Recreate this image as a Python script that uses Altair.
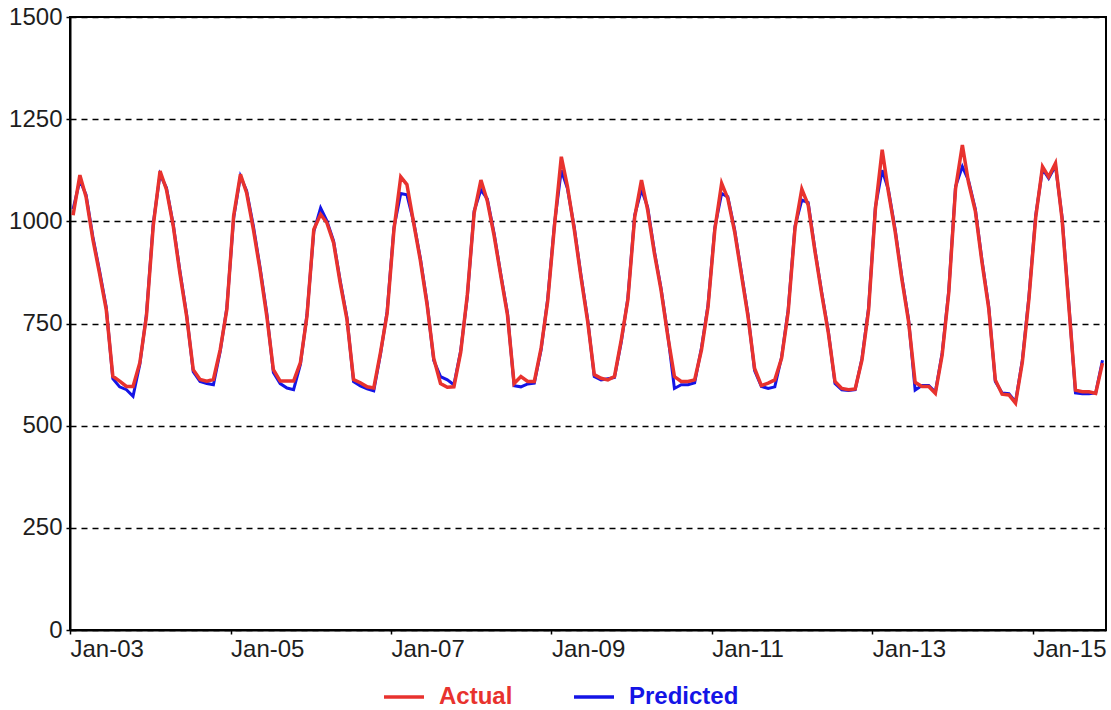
import altair as alt
import pandas as pd

START = "2003-01-01"

actual = [
    1015, 1113, 1060, 956, 874, 784, 621, 609, 596, 596, 654, 768,
    989, 1123, 1078, 989, 874, 768, 637, 613, 609, 613, 686, 784,
    1013, 1115, 1070, 980, 882, 768, 637, 609, 609, 609, 654, 768,
    980, 1017, 997, 948, 850, 760, 613, 605, 595, 592, 680, 775,
    980, 1109, 1090, 995, 905, 795, 665, 603, 594, 595, 680, 820,
    1020, 1101, 1050, 965, 868, 770, 603, 620, 608, 608, 690, 805,
    990, 1158, 1085, 980, 865, 755, 625, 616, 612, 620, 710, 808,
    1010, 1101, 1028, 921, 832, 718, 620, 608, 608, 612, 685, 791,
    980, 1093, 1056, 975, 873, 767, 640, 598, 604, 612, 665, 779,
    983, 1079, 1040, 926, 824, 726, 608, 591, 588, 590, 661, 783,
    1030, 1175, 1073, 975, 860, 755, 606, 596, 596, 579, 673, 825,
    1080, 1187, 1095, 1025, 901, 787, 612, 577, 575, 555, 655, 810,
    1010, 1134, 1109, 1142, 1005, 791, 587, 583, 583, 579, 653,
]

predicted = [
    1030, 1100, 1065, 962, 880, 790, 615, 595, 588, 572, 650, 772,
    995, 1115, 1082, 992, 880, 772, 632, 608, 603, 600, 682, 788,
    1008, 1110, 1075, 988, 888, 775, 630, 603, 592, 588, 650, 772,
    975, 1033, 1002, 952, 855, 765, 608, 597, 590, 585, 676, 780,
    985, 1068, 1065, 998, 910, 800, 660, 620, 612, 600, 684, 815,
    1025, 1077, 1055, 970, 872, 775, 598, 595, 602, 604, 686, 810,
    995, 1125, 1080, 985, 870, 760, 620, 612, 615, 618, 705, 812,
    1015, 1077, 1035, 926, 836, 722, 591, 600, 600, 605, 690, 795,
    985, 1068, 1060, 980, 878, 772, 635, 596, 591, 595, 668, 784,
    988, 1052, 1046, 930, 828, 730, 603, 588, 586, 588, 665, 788,
    1035, 1125, 1078, 980, 865, 760, 587, 598, 598, 582, 678, 830,
    1085, 1134, 1100, 1030, 906, 792, 608, 580, 578, 558, 660, 815,
    1015, 1128, 1105, 1136, 1010, 796, 580, 578, 578, 580, 660,
]

series_names = ["Actual", "Predicted"]
series_colors = ["#e8322e", "#1414e6"]
y_ticks = [0, 250, 500, 750, 1000, 1250, 1500]
x_tick_years = [2003, 2005, 2007, 2009, 2011, 2013, 2015]

n = len(actual)
months = pd.date_range(START, periods=n, freq="MS") + pd.Timedelta(days=14)
dates = list(months.strftime("%Y-%m-%dT00:00:00"))

df = pd.DataFrame({
    "date": dates + dates,
    "series": ["Actual"] * n + ["Predicted"] * n,
    "value": actual + predicted,
})

FONT = "Liberation Sans"

x_enc = alt.X(
    "date:T",
    scale=alt.Scale(domain=[alt.DateTime(year=2003, month=1, date=1),
                            alt.DateTime(year=2015, month=12, date=1)]),
    axis=alt.Axis(
        values=[alt.DateTime(year=yy, month=1, date=1) for yy in x_tick_years],
        format="%b-%y", labelAlign="left", labelFlush=False, labelOverlap=False,
        grid=False, title=None, labelFont=FONT, labelFontSize=24,
        labelColor="#1e1e1e", domainColor="black", domainWidth=2,
        tickColor="black", tickSize=4, tickWidth=1.5, labelPadding=3,
    ),
)
y_enc = alt.Y(
    "value:Q",
    scale=alt.Scale(domain=[0, 1500], nice=False),
    axis=alt.Axis(
        values=y_ticks, format="d", grid=True, gridDash=[6, 5], gridColor="black",
        gridWidth=1.6, title=None, labelFont=FONT, labelFontSize=24,
        labelColor="#1e1e1e", domainColor="black", domainWidth=2,
        tickColor="black", tickSize=4, tickWidth=1.5, labelPadding=4,
    ),
)
color_enc = alt.Color(
    "series:N",
    scale=alt.Scale(domain=series_names, range=series_colors),
    legend=alt.Legend(
        title=None, orient="none", legendX=312, legendY=658,
        direction="horizontal", symbolType="stroke", symbolSize=1600,
        symbolStrokeWidth=3.5, labelFont=FONT, labelFontSize=24,
        labelFontWeight="bold",
        labelColor={"expr": "datum.label == 'Actual' ? '#e8322e' : '#1414e6'"},
        labelOffset=13, columnPadding=54, padding=0,
    ),
)

base = alt.Chart(df).encode(x=x_enc, y=y_enc, color=color_enc)
pred = base.transform_filter("datum.series == 'Predicted'").mark_line(strokeWidth=3)
act = base.transform_filter("datum.series == 'Actual'").mark_line(strokeWidth=3.5)

chart = alt.layer(pred, act).properties(
    width=1036, height=613, autosize="none",
    padding={"left": 70, "top": 17, "right": 5, "bottom": 80},
).configure_view(stroke="black", strokeWidth=2)

chart.save("out.html", embed_options={"renderer": "svg", "actions": False})
